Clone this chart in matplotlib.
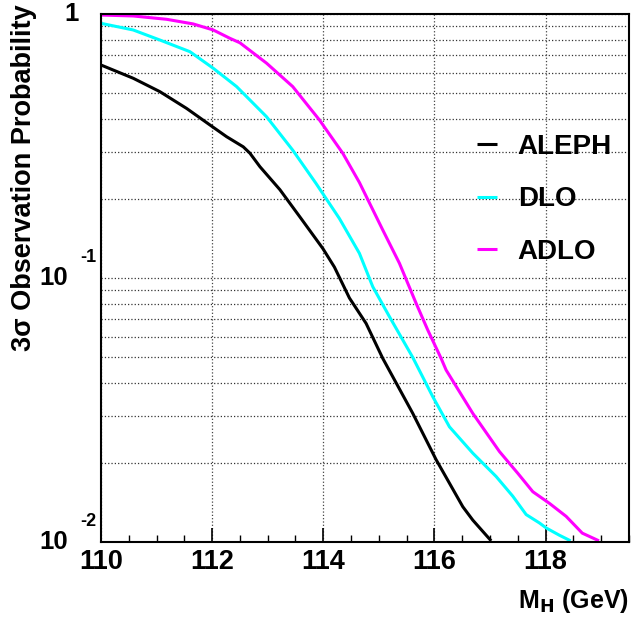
import matplotlib
matplotlib.use("Agg")
import matplotlib.pyplot as plt
from matplotlib.ticker import MultipleLocator, LogLocator, NullFormatter, FixedLocator
import matplotlib.transforms as mtransforms

plt.rcParams['font.family'] = ['Liberation Sans', 'DejaVu Sans']
plt.rcParams['font.weight'] = 'bold'

# ---- data ----
aleph_x = [110.0, 110.58, 111.06, 111.54, 111.96, 112.26, 112.56, 112.68, 112.86, 113.22,
           113.6, 113.99, 114.2, 114.47, 114.77, 115.07, 115.61, 116.03, 116.51, 116.69, 117.02]
aleph_y = [0.641, 0.571, 0.508, 0.439, 0.380, 0.343, 0.314, 0.297, 0.264, 0.216,
           0.168, 0.1295, 0.110, 0.0840, 0.0673, 0.0496, 0.0307, 0.0205, 0.0136, 0.0121, 0.0101]

dlo_x = [110.0, 110.58, 111.06, 111.6, 112.02, 112.44, 112.98, 113.45, 113.87,
         114.29, 114.65, 114.89, 115.19, 115.61, 115.97, 116.27, 116.69, 117.11, 117.41,
         117.65, 117.89, 118.01, 118.25, 118.45]
dlo_y = [0.922, 0.870, 0.797, 0.720, 0.623, 0.531, 0.408, 0.305, 0.228,
         0.168, 0.124, 0.0927, 0.0714, 0.0500, 0.0355, 0.0273, 0.0217, 0.0177, 0.0149,
         0.0127, 0.0118, 0.0113, 0.0106, 0.0101]

adlo_x = [110.0, 110.58, 111.18, 111.66, 112.02, 112.32, 112.5, 112.98, 113.45,
          113.93, 114.35, 114.65, 115.07, 115.37, 115.67, 115.88, 116.12, 116.21,
          116.69, 117.17, 117.5, 117.77, 118.07, 118.37, 118.66, 118.96]
adlo_y = [0.991, 0.983, 0.955, 0.917, 0.870, 0.809, 0.778, 0.651, 0.531,
          0.397, 0.297, 0.230, 0.152, 0.1137, 0.0802, 0.0635, 0.0496, 0.0448,
          0.0307, 0.0220, 0.0182, 0.0155, 0.0140, 0.0125, 0.0108, 0.0101]

series = [("ALEPH", aleph_x, aleph_y, "black"),
          ("DLO", dlo_x, dlo_y, "#00FFFF"),
          ("ADLO", adlo_x, adlo_y, "#FF00FF")]

x_ticks = [110, 112, 114, 116, 118]

fig = plt.figure(figsize=(6.31, 6.17), dpi=100)
ax = fig.add_axes([0.160, 0.1216, 0.8368, 0.8557])

for name, xs, ys, c in series:
    ax.plot(xs, ys, color=c, lw=2.2, label=name, solid_capstyle='butt',
            solid_joinstyle='round')

ax.set_yscale('log')
ax.set_xlim(110, 119.5)
ax.set_ylim(0.01, 1.0)

ax.xaxis.set_major_locator(FixedLocator(x_ticks))
ax.xaxis.set_minor_locator(MultipleLocator(0.5))
ax.set_xticklabels([str(t) for t in x_ticks])
ax.yaxis.set_major_locator(LogLocator(base=10, numticks=10))
ax.yaxis.set_minor_locator(LogLocator(base=10, subs=range(2, 10), numticks=20))
ax.yaxis.set_major_formatter(NullFormatter())
ax.yaxis.set_minor_formatter(NullFormatter())

ax.tick_params(axis='x', which='major', direction='in', length=10, width=1.2,
               labelsize=19.5, pad=5, top=False)
ax.tick_params(axis='x', which='minor', direction='in', length=5, width=1.0, top=False)
ax.tick_params(axis='y', which='both', direction='in', length=0)
for lbl in ax.get_xticklabels():
    lbl.set_fontweight('bold')

ax.grid(True, axis='x', which='major', linestyle=':', color='#444444', lw=0.9)
ax.grid(True, axis='y', which='both', linestyle=':', color='#333333', lw=0.9)

for sp in ax.spines.values():
    sp.set_linewidth(1.5)

# ROOT-style y tick labels
trans = mtransforms.blended_transform_factory(ax.transAxes, ax.transData)
ax.text(-0.043, 1.0, "1", transform=trans, ha='right', va='center',
        fontsize=18.5, fontweight='bold', clip_on=False)
for val, exp in [(0.1, "-1"), (0.01, "-2")]:
    ax.text(-0.062, val, "10", transform=trans, ha='right', va='center',
            fontsize=18.5, fontweight='bold', clip_on=False)
    ax.text(-0.040, val * 10 ** (20.5 / 264), exp, transform=trans, ha='left', va='center',
            fontsize=13, fontweight='bold', clip_on=False)

fig.text(0.038, 0.993, "3σ Observation Probability", rotation=90, ha='center', va='top',
         fontsize=19.5, fontweight='bold')
fig.text(0.997, 0.0146, r"M$_\mathbf{H}$ (GeV)", ha='right', va='baseline',
         fontsize=18, fontweight='bold')

leg = ax.legend(loc='upper left', bbox_to_anchor=(0.712, 0.773), frameon=False,
                handlelength=0.72, handletextpad=0.75, labelspacing=0.95,
                borderpad=0, borderaxespad=0, prop={'size': 20, 'weight': 'bold'})

fig.savefig("out.png", dpi=100)
